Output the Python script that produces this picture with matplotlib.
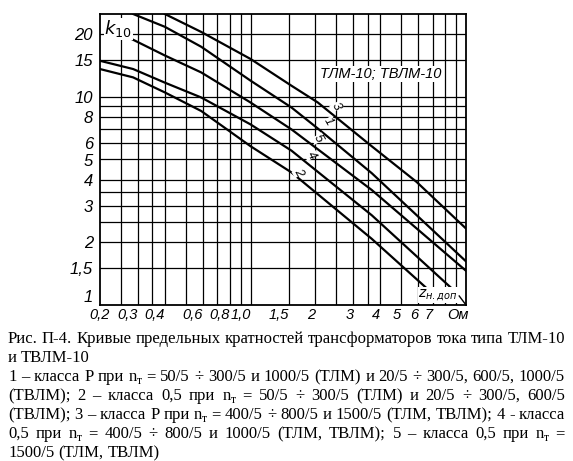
import matplotlib
matplotlib.use("Agg")
import matplotlib.pyplot as plt
from matplotlib.ticker import NullLocator

# limit multiplicity curves k10 = f(z_н.доп), Ом
z_1 = [0.285, 0.40, 0.59, 1.0, 1.55, 2.05, 3.65, 10.0]
k_1 = [25.0, 21.7, 17.4, 11.96, 8.88, 7.05, 4.30, 1.62]
z_2 = [0.2, 0.285, 0.40, 0.59, 1.0, 1.55, 3.65, 6.53]
k_2 = [13.6, 12.4, 10.5, 8.55, 5.79, 4.33, 2.08, 1.21]
z_3 = [0.40, 0.59, 1.0, 1.55, 2.05, 3.65, 5.9, 10.0]
k_3 = [25.0, 20.5, 15.2, 11.3, 9.4, 5.79, 3.9, 2.33]
z_4 = [0.2, 0.285, 0.40, 0.59, 1.0, 1.55, 3.65, 8.83]
k_4 = [14.9, 13.6, 11.7, 9.93, 7.37, 5.51, 2.70, 1.17]
z_5 = [0.25, 0.285, 0.40, 0.59, 1.0, 1.55, 3.65, 10.0]
k_5 = [20.1, 18.8, 15.8, 13.1, 9.39, 6.97, 3.57, 1.46]

curve_names = ["1", "2", "3", "4", "5"]
# where the curve numbers are written
label_z = [2.3, 1.67, 2.5, 1.91, 2.06]
label_k = [7.6, 4.35, 9.0, 5.25, 6.3]

x_grid = [0.25, 0.3, 0.35, 0.4, 0.5, 0.6, 0.7, 0.8, 0.9, 1.0,
          1.5, 2, 2.5, 3, 3.5, 4, 5, 6, 7, 8, 9]
y_grid = [1.5, 2, 2.5, 3, 3.5, 4, 5, 6, 7, 8, 9, 10, 15, 20]
x_ticks = [0.2, 0.3, 0.4, 0.6, 0.8, 1.0, 1.5, 2, 3, 4, 5, 6, 7]
x_tick_text = ["0,2", "0,3", "0,4", "0,6", "0,8", "1,0", "1,5",
               "2", "3", "4", "5", "6", "7"]
y_ticks = [1, 1.5, 2, 3, 4, 5, 6, 8, 10, 15, 20]
y_tick_text = ["1", "1,5", "2", "3", "4", "5", "6", "8", "10", "15", "20"]

caption = [
    ("Рис. П-4. Кривые предельных кратностей трансформаторов тока типа ТЛМ-10", True),
    ("и ТВЛМ-10", False),
    ("1 – класса Р при n_т = 50/5 ÷ 300/5 и 1000/5 (ТЛМ) и 20/5 ÷ 300/5, 600/5, 1000/5", True),
    ("(ТВЛМ); 2 – класса 0,5 при n_т = 50/5 ÷ 300/5 (ТЛМ) и 20/5 ÷ 300/5, 600/5", True),
    ("(ТВЛМ); 3 – класса Р при n_т = 400/5 ÷ 800/5 и 1500/5 (ТЛМ, ТВЛМ); 4 - класса", True),
    ("0,5 при n_т = 400/5 ÷ 800/5 и 1000/5 (ТЛМ, ТВЛМ); 5 – класса 0,5 при n_т =", True),
    ("1500/5 (ТЛМ, ТВЛМ)", False),
]

W, H = 573, 461
gost = ["Liberation Sans", "DejaVu Sans"]

fig = plt.figure(figsize=(W / 100, H / 100), dpi=100)
ax = fig.add_axes([100 / W, 1 - 305 / H, 366 / W, 291 / H])
ax.set_xscale("log")
ax.set_yscale("log")
ax.set_xlim(0.2, 10)
ax.set_ylim(1, 25)

for v in x_grid:
    ax.axvline(v, color="k", lw=0.9, zorder=1)
for v in y_grid:
    ax.axhline(v, color="k", lw=0.9, zorder=1)

for z, k in [(z_1, k_1), (z_2, k_2), (z_3, k_3), (z_4, k_4), (z_5, k_5)]:
    ax.plot(z, k, color="k", lw=1.6, zorder=3)

for name, z, k in zip(curve_names, label_z, label_k):
    ax.text(z, k, name, rotation=-60, ha="center", va="center", fontsize=9,
            family=gost, style="italic", zorder=4,
            bbox=dict(facecolor="white", edgecolor="none", pad=0.1))

for s in ax.spines.values():
    s.set_linewidth(1.3)

ax.xaxis.set_minor_locator(NullLocator())
ax.yaxis.set_minor_locator(NullLocator())
ax.set_xticks(x_ticks, x_tick_text)
ax.set_yticks(y_ticks, y_tick_text)
ax.tick_params(axis="both", length=0)
ax.tick_params(axis="x", pad=2, labelsize=10.5)
ax.tick_params(axis="y", pad=5, labelsize=12)
for lbl in ax.get_xticklabels() + ax.get_yticklabels():
    lbl.set_family(gost)
    lbl.set_style("italic")
for lbl in ax.get_xticklabels()[1:]:
    lbl.set_horizontalalignment("right")
ax.get_yticklabels()[0].set_verticalalignment("bottom")

ax.text(8.2, -0.012, "Ом", transform=ax.get_xaxis_transform(), ha="left",
        va="top", fontsize=10.5, family=gost, style="italic")
ax.text(0.012, 0.985, r"$k_{10}$", transform=ax.transAxes, ha="left", va="top",
        fontsize=13, zorder=5,
        bbox=dict(facecolor="white", edgecolor="none", pad=0.5))
ax.text(0.768, 0.794, "ТЛМ-10; ТВЛМ-10", transform=ax.transAxes, ha="center",
        va="center", fontsize=10.5, family=gost, style="italic", zorder=5,
        bbox=dict(facecolor="white", edgecolor="none", pad=0.5))
ax.text(7.4, 1.12, r"$z_{н.доп}$", ha="center", va="center", fontsize=10,
        zorder=5, bbox=dict(facecolor="white", edgecolor="none", pad=0.2))
ax.plot([9.3, 10], [1.105, 1.0], color="k", lw=1.0, zorder=4, clip_on=False)

# caption, justified word by word
renderer = fig.canvas.get_renderer()
x0, x1 = 8, 565
size = 12
space = fig.text(0, 0, "a a", fontsize=size, family="Liberation Serif")
w_aa = space.get_window_extent(renderer).width
space.set_text("aa")
sp = w_aa - space.get_window_extent(renderer).width
space.remove()

baseline = 343
for line, justify in caption:
    words = []
    for word in line.split(" "):
        parts = []
        if word == "n_т":
            pieces = [("n", size, 0), ("т", size * 0.7, -3)]
        else:
            pieces = [(word, size, 0)]
        for txt, sz, dy in pieces:
            t = fig.text(0, 0, txt, fontsize=sz, family="Liberation Serif",
                         va="baseline")
            parts.append((t, t.get_window_extent(renderer).width, dy))
        words.append(parts)
    total = sum(w for parts in words for _, w, _ in parts)
    gap = (x1 - x0 - total) / (len(words) - 1) if justify else sp
    x = x0
    for parts in words:
        for t, w, dy in parts:
            t.set_position((x / W, 1 - (baseline - dy) / H))
            x += w
        x += gap
    baseline += 19

fig.savefig("out.png", dpi=100)
